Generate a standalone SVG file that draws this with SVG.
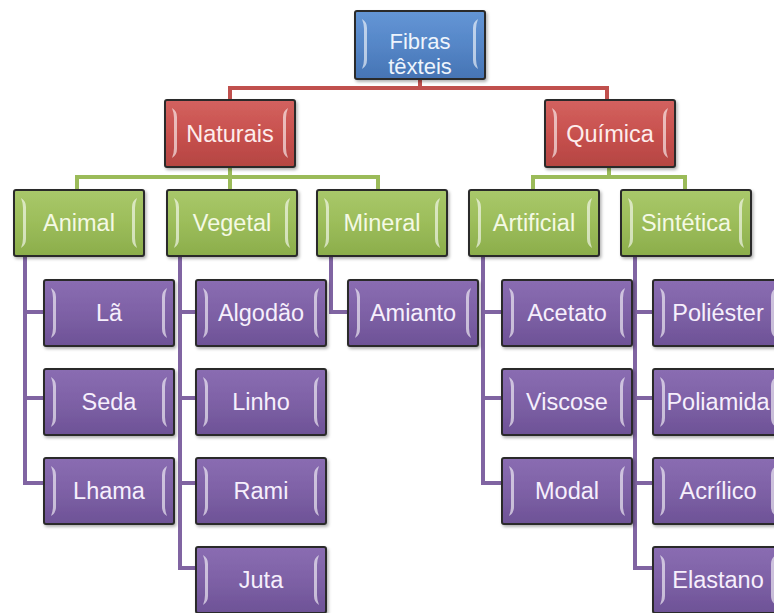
<svg xmlns="http://www.w3.org/2000/svg" xmlns:xlink="http://www.w3.org/1999/xlink" width="774" height="613" viewBox="0 0 774 613">
<defs>
<linearGradient id="gBlue" x1="0" y1="0" x2="0" y2="1"><stop offset="0" stop-color="#6496d6"/><stop offset="0.5" stop-color="#5586c7"/><stop offset="1" stop-color="#4674b4"/></linearGradient>
<linearGradient id="gRed" x1="0" y1="0" x2="0" y2="1"><stop offset="0" stop-color="#d3625f"/><stop offset="0.5" stop-color="#c8514e"/><stop offset="1" stop-color="#b44542"/></linearGradient>
<linearGradient id="gGreen" x1="0" y1="0" x2="0" y2="1"><stop offset="0" stop-color="#a9c86a"/><stop offset="0.5" stop-color="#9cbd5a"/><stop offset="1" stop-color="#8bad4b"/></linearGradient>
<linearGradient id="gPurple" x1="0" y1="0" x2="0" y2="1"><stop offset="0" stop-color="#8a6db2"/><stop offset="0.5" stop-color="#7e61a6"/><stop offset="1" stop-color="#6d5296"/></linearGradient>
<filter id="sh" x="-10%" y="-10%" width="130%" height="130%"><feDropShadow dx="1.5" dy="2" stdDeviation="1.5" flood-color="#000" flood-opacity="0.3"/></filter>
<g id="bevel">
<path d="M7,8 Q12,11 12,17 V49 Q12,55 7,58 Q9,53 9,48 V18 Q9,13 7,8 Z" fill="#ffffff" fill-opacity="0.6"/>
<path d="M123,8 Q118,11 118,17 V49 Q118,55 123,58 Q121,53 121,48 V18 Q121,13 123,8 Z" fill="#ffffff" fill-opacity="0.6"/>
</g>
</defs>
<style>
.box{stroke:#2a2a2a;stroke-width:2;filter:url(#sh)}
.blue{fill:url(#gBlue)}
.red{fill:url(#gRed)}
.green{fill:url(#gGreen)}
.purple{fill:url(#gPurple)}
text{font-family:"Liberation Sans",Arial,sans-serif;font-size:23.5px;text-anchor:middle}
.blue text{font-size:22px;fill:#eef4fc}
.green text{fill:#f4f9e4}
.purple text{fill:#f6effc}
.red text{fill:#fdecec}
.c{fill:none;stroke-width:4;stroke-linejoin:miter;stroke-linecap:butt}
.cr{stroke:#c0504d}
.cg{stroke:#9bbb59}
.cp{stroke:#8064a2}
</style>
<rect width="774" height="613" fill="#ffffff"/>
<g id="connectors">
<path class="c cr" d="M420,79 V88 M228,88 H609 M230,88 V100 M607,88 V100"/>
<path class="c cg" d="M230,167 V177 M75,177 H380 M77,177 V190 M230,177 V190 M378,177 V190"/>
<path class="c cg" d="M609,167 V177 M531,177 H687 M533,177 V190 M685,177 V190"/>
<path class="c cp" d="M25,256 V483 H44 M25,312 H44 M25,398 H44"/>
<path class="c cp" d="M180,256 V568 H196 M180,312 H196 M180,398 H196 M180,483 H196"/>
<path class="c cp" d="M331,256 V312 H348"/>
<path class="c cp" d="M483,256 V483 H502 M483,312 H502 M483,398 H502"/>
<path class="c cp" d="M635,256 V568 H653 M635,312 H653 M635,398 H653 M635,483 H653"/>
</g>
<g id="fibras" class="blue" transform="translate(355,11)"><rect class="box" width="130" height="68" rx="2"/><use xlink:href="#bevel"/><text x="65" y="38">Fibras</text><text x="65" y="63">têxteis</text></g>
<g id="naturais" class="red" transform="translate(165,100)"><rect class="box" width="130" height="67" rx="2"/><use xlink:href="#bevel"/><text x="65" y="42">Naturais</text></g>
<g id="quimica" class="red" transform="translate(545,100)"><rect class="box" width="130" height="67" rx="2"/><use xlink:href="#bevel"/><text x="65" y="42">Química</text></g>
<g id="animal" class="green" transform="translate(14,190)"><rect class="box" width="130" height="66" rx="2"/><use xlink:href="#bevel"/><text x="65" y="41">Animal</text></g>
<g id="vegetal" class="green" transform="translate(167,190)"><rect class="box" width="130" height="66" rx="2"/><use xlink:href="#bevel"/><text x="65" y="41">Vegetal</text></g>
<g id="mineral" class="green" transform="translate(317,190)"><rect class="box" width="130" height="66" rx="2"/><use xlink:href="#bevel"/><text x="65" y="41">Mineral</text></g>
<g id="artificial" class="green" transform="translate(469,190)"><rect class="box" width="130" height="66" rx="2"/><use xlink:href="#bevel"/><text x="65" y="41">Artificial</text></g>
<g id="sintetica" class="green" transform="translate(621,190)"><rect class="box" width="130" height="66" rx="2"/><use xlink:href="#bevel"/><text x="65" y="41">Sintética</text></g>
<g id="la" class="purple" transform="translate(44,280)"><rect class="box" width="130" height="66" rx="2"/><use xlink:href="#bevel"/><text x="65" y="41">Lã</text></g>
<g id="seda" class="purple" transform="translate(44,369)"><rect class="box" width="130" height="66" rx="2"/><use xlink:href="#bevel"/><text x="65" y="41">Seda</text></g>
<g id="lhama" class="purple" transform="translate(44,458)"><rect class="box" width="130" height="66" rx="2"/><use xlink:href="#bevel"/><text x="65" y="41">Lhama</text></g>
<g id="algodao" class="purple" transform="translate(196,280)"><rect class="box" width="130" height="66" rx="2"/><use xlink:href="#bevel"/><text x="65" y="41">Algodão</text></g>
<g id="linho" class="purple" transform="translate(196,369)"><rect class="box" width="130" height="66" rx="2"/><use xlink:href="#bevel"/><text x="65" y="41">Linho</text></g>
<g id="rami" class="purple" transform="translate(196,458)"><rect class="box" width="130" height="66" rx="2"/><use xlink:href="#bevel"/><text x="65" y="41">Rami</text></g>
<g id="juta" class="purple" transform="translate(196,547)"><rect class="box" width="130" height="66" rx="2"/><use xlink:href="#bevel"/><text x="65" y="41">Juta</text></g>
<g id="amianto" class="purple" transform="translate(348,280)"><rect class="box" width="130" height="66" rx="2"/><use xlink:href="#bevel"/><text x="65" y="41">Amianto</text></g>
<g id="acetato" class="purple" transform="translate(502,280)"><rect class="box" width="130" height="66" rx="2"/><use xlink:href="#bevel"/><text x="65" y="41">Acetato</text></g>
<g id="viscose" class="purple" transform="translate(502,369)"><rect class="box" width="130" height="66" rx="2"/><use xlink:href="#bevel"/><text x="65" y="41">Viscose</text></g>
<g id="modal" class="purple" transform="translate(502,458)"><rect class="box" width="130" height="66" rx="2"/><use xlink:href="#bevel"/><text x="65" y="41">Modal</text></g>
<g id="poliester" class="purple" transform="translate(653,280)"><rect class="box" width="130" height="66" rx="2"/><use xlink:href="#bevel"/><text x="65" y="41">Poliéster</text></g>
<g id="poliamida" class="purple" transform="translate(653,369)"><rect class="box" width="130" height="66" rx="2"/><use xlink:href="#bevel"/><text x="65" y="41">Poliamida</text></g>
<g id="acrilico" class="purple" transform="translate(653,458)"><rect class="box" width="130" height="66" rx="2"/><use xlink:href="#bevel"/><text x="65" y="41">Acrílico</text></g>
<g id="elastano" class="purple" transform="translate(653,547)"><rect class="box" width="130" height="66" rx="2"/><use xlink:href="#bevel"/><text x="65" y="41">Elastano</text></g>
</svg>
